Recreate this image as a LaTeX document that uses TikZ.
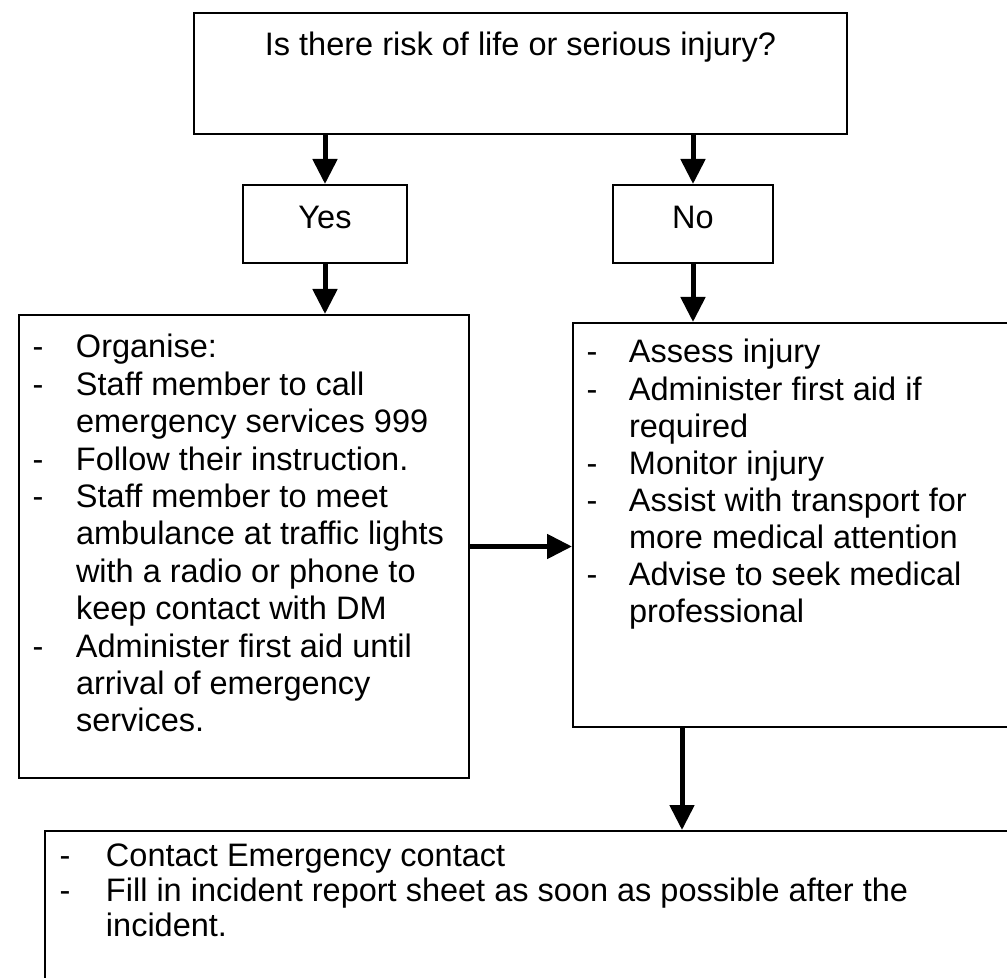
\documentclass[tikz,border=0pt]{standalone}
\usepackage{fontspec}
\setmainfont{Liberation Sans}
\usetikzlibrary{arrows.meta}

\begin{document}
\begin{tikzpicture}[x=0.5pt,y=-0.5pt,
  font=\fontsize{16.25pt}{18.7pt}\selectfont,
  box/.style={draw,line width=1pt,inner sep=0pt},
  arr/.style={line width=2.5pt,-{Triangle[length=12.5pt,width=12pt]}}]

\useasboundingbox (0,0) rectangle (1007,978);
\clip (0,0) rectangle (1007,978);

% domanda
\node[box,anchor=north,minimum width=326.5pt,text height=21.5pt,text depth=39pt] (risk) at (520.5,12) {Is there risk of life or serious injury?};

% risposte
\node[box,anchor=north,minimum width=82pt,text height=22pt,text depth=17pt] (yes) at (325,184) {Yes};
\node[box,anchor=north,minimum width=80pt,text height=22pt,text depth=17pt] (no) at (693,184) {No};

% cosa fare: si
\node[box,anchor=north west,text height=21.5pt,text depth=210pt] (yesact) at (18,314) {\makebox[225pt][l]{%
\begin{tabular}[t]{@{\hspace{6.8pt}}p{21.7pt}@{}l@{}}
- & Organise:\\
- & Staff member to call\\
  & emergency services 999\\
- & Follow their instruction.\\
- & Staff member to meet\\
  & ambulance at traffic lights\\
  & with a radio or phone to\\
  & keep contact with DM\\
- & Administer first aid until\\
  & arrival of emergency\\
  & services.
\end{tabular}}};

% cosa fare: no
\node[box,anchor=north west,font=\fontsize{16.25pt}{18.55pt}\selectfont,text height=20pt,text depth=182pt] (noact) at (572,322) {\makebox[230pt][l]{%
\begin{tabular}[t]{@{\hspace{6.8pt}}p{21.2pt}@{}l@{}}
- & Assess injury\\
- & Administer first aid if\\
  & required\\
- & Monitor injury\\
- & Assist with transport for\\
  & more medical attention\\
- & Advise to seek medical\\
  & professional
\end{tabular}}};

% in ogni caso
\node[box,anchor=north west,font=\fontsize{16.25pt}{17.5pt}\selectfont,text height=17.5pt,text depth=100pt] (report) at (44,830) {\makebox[637pt][l]{%
\begin{tabular}[t]{@{\hspace{7.3pt}}p{23.2pt}@{}l@{}}
- & Contact Emergency contact\\
- & Fill in incident report sheet as soon as possible after the\\
  & incident.
\end{tabular}}};

% frecce
\draw[arr] (risk.south -| yes) -- (yes);
\draw[arr] (risk.south -| no) -- (no);
\draw[arr] (yes) -- (yes |- yesact.north);
\draw[arr] (no) -- (no |- noact.north);
\draw[arr] (yesact.east) -- (yesact.east -| noact.west);
\draw[arr] (noact.south -| report.north) -- (report.north);

\end{tikzpicture}
\end{document}
